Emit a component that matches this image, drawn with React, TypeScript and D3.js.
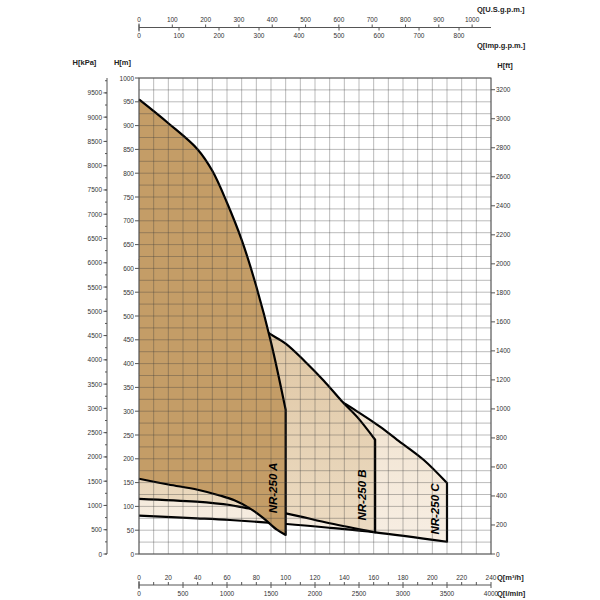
import React from 'react';
import * as d3 from 'd3';

// ---- data (Q in m3/h, H in m) ----
const qAUp = [0, 20, 40, 50, 60, 70, 80, 90, 100];
const hAUp = [955, 905, 850, 805, 738, 660, 562, 445, 303];
const qALow = [0, 20, 40, 55, 65, 75, 85, 94, 100];
const hALow = [158, 146, 135, 123, 113, 97, 75, 51, 40];

const qBUp = [0, 40, 70, 87, 100, 113, 126, 138, 149, 161];
const hBUp = [620, 570, 510, 467, 442, 405, 364, 322, 287, 240];
const qBLow = [0, 39, 62, 73.4, 100, 130, 161];
const hBLow = [116, 110, 103, 96.5, 85.5, 64.5, 45.6];

const qCUp = [0, 60, 100, 125, 137, 150, 164, 176, 194, 210];
const hCUp = [380, 360, 345, 330, 321, 297, 268, 240, 198, 149];
const qCLow = [0, 39.3, 62, 100.7, 130, 161, 210];
const hCLow = [80.5, 75, 71.4, 63, 55, 45.6, 25.8];

const pumpNames = ['NR-250 A', 'NR-250 B', 'NR-250 C'];
const labelQ = [91.4, 152, 201.8];
const labelH = [138.7, 124, 94.5];

const mTicks = d3.range(0, 1001, 50);
const kPaTicks = d3.range(0, 9501, 500);
const kPaMinor = d3.range(0, 9751, 250);
const ftTicks = d3.range(0, 3201, 200);
const m3hTicks = d3.range(0, 241, 20);
const lminTicks = d3.range(0, 4001, 500);
const usTicks = d3.range(0, 1001, 100);
const impTicks = d3.range(0, 801, 100);

const L = 139, R = 491, T = 78, B = 554;
const x = d3.scaleLinear().domain([0, 240]).range([L, R]);
const y = d3.scaleLinear().domain([0, 1000]).range([B, T]);
const yk = d3.scaleLinear().domain([0, 1000 * 9.80665]).range([B, T]);
const yf = d3.scaleLinear().domain([0, 1000 / 0.3048]).range([B, T]);
const xl = d3.scaleLinear().domain([0, 4000]).range([L, R]);
const xus = d3.scaleLinear().domain([0, 240 * 4.40287]).range([L, R]);
const ximp = d3.scaleLinear().domain([0, 240 * 3.66615]).range([L, R]);

const zip = (a: number[], b: number[]) => a.map((v, i) => [v, b[i]] as [number, number]);
const lineGen = d3.line<[number, number]>().x(d => x(d[0])).y(d => y(d[1])).curve(d3.curveCatmullRom.alpha(0.5));

function shape(qu: number[], hu: number[], ql: number[], hl: number[]) {
  const up = zip(qu, hu);
  const low = zip(ql, hl).reverse();
  const upD = lineGen(up) as string;
  const lowD = (lineGen(low) as string).replace(/^M/, 'L');
  return { fill: upD + lowD + 'Z', stroke: upD + lowD };
}

const sA = shape(qAUp, hAUp, qALow, hALow);
const sB = shape(qBUp, hBUp, qBLow, hBLow);
const sC = shape(qCUp, hCUp, qCLow, hCLow);

const tickFont = { fontFamily: 'Liberation Sans, Arial, sans-serif', fontSize: 6.5, fill: '#333' } as const;
const titleFont = { fontFamily: 'Liberation Sans, Arial, sans-serif', fontSize: 7.5, fontWeight: 700, fill: '#222' } as const;

export default function App() {
  const gridV = d3.range(0, 241, 10);
  const gridH = d3.range(0, 1001, 25);
  const axC = '#555';
  const topY = 27.5;
  const botY = 585;
  return (
    <svg width={600} height={600} style={{ position: 'absolute', left: 0, top: 0, background: '#fff' }}>
      <defs>
        <linearGradient id="gB" x1="0" y1="0" x2="0" y2="1">
          <stop offset="0" stopColor="#dbc09a" />
          <stop offset="1" stopColor="#ecdbc2" />
        </linearGradient>
        <linearGradient id="gC" x1="0" y1="0" x2="0" y2="1">
          <stop offset="0" stopColor="#f0e1cc" />
          <stop offset="1" stopColor="#f7eee3" />
        </linearGradient>
      </defs>
      <rect x={L} y={T} width={R - L} height={B - T} fill="#fff" />
      <path d={sC.fill} fill="url(#gC)" />
      <path d={sC.stroke} fill="none" stroke="#000" strokeWidth={2.2} strokeLinejoin="round" />
      <path d={sB.fill} fill="url(#gB)" />
      <path d={sB.stroke} fill="none" stroke="#000" strokeWidth={2.2} strokeLinejoin="round" />
      <path d={sA.fill} fill="#c49d67" />
      <path d={sA.stroke} fill="none" stroke="#000" strokeWidth={2.2} strokeLinejoin="round" />
      {gridV.map(v => (
        <line key={'gv' + v} x1={x(v)} x2={x(v)} y1={T} y2={B} stroke="rgba(60,60,60,0.35)" strokeWidth={1} />
      ))}
      {gridH.map(v => (
        <line key={'gh' + v} x1={L} x2={R} y1={y(v)} y2={y(v)} stroke="rgba(60,60,60,0.35)" strokeWidth={1} />
      ))}
      <rect x={L} y={T} width={R - L} height={B - T} fill="none" stroke={axC} strokeWidth={1} />
      {pumpNames.map((n, i) => (
        <text key={n} transform={`translate(${x(labelQ[i])},${y(labelH[i])}) rotate(-90)`} textAnchor="middle" dominantBaseline="central"
          style={{ fontFamily: 'Liberation Sans, Arial, sans-serif', fontSize: 11.5, fontWeight: 700, fontStyle: 'italic' }} fill="#000">{n}</text>
      ))}
      {/* H[m] axis */}
      {mTicks.map(v => (
        <g key={'m' + v}>
          <line x1={L - 4} x2={L} y1={y(v)} y2={y(v)} stroke={axC} />
          <text x={L - 5} y={y(v)} textAnchor="end" dominantBaseline="central" style={tickFont}>{v}</text>
        </g>
      ))}
      {/* kPa axis */}
      <line x1={107} x2={107} y1={T} y2={B} stroke={axC} />
      {kPaMinor.map(v => (
        <line key={'km' + v} x1={105} x2={107} y1={yk(v)} y2={yk(v)} stroke={axC} />
      ))}
      {kPaTicks.map(v => (
        <g key={'k' + v}>
          <line x1={103.5} x2={107} y1={yk(v)} y2={yk(v)} stroke={axC} />
          <text x={102} y={yk(v)} textAnchor="end" dominantBaseline="central" style={tickFont}>{v}</text>
        </g>
      ))}
      {/* ft axis */}
      {ftTicks.map(v => (
        <g key={'f' + v}>
          <line x1={R} x2={R + 4} y1={yf(v)} y2={yf(v)} stroke={axC} />
          <text x={R + 5} y={yf(v)} dominantBaseline="central" style={tickFont}>{v}</text>
        </g>
      ))}
      <text x={84.5} y={65} textAnchor="middle" style={titleFont}>H[kPa]</text>
      <text x={122.5} y={65} textAnchor="middle" style={titleFont}>H[m]</text>
      <text x={505} y={68} textAnchor="middle" style={titleFont}>H[ft]</text>
      {/* bottom axes */}
      <line x1={L} x2={R} y1={botY} y2={botY} stroke={axC} />
      <line x1={L} x2={L} y1={botY - 4} y2={botY + 4} stroke={axC} />
      {d3.range(0, 241, 10).map(v => (
        <line key={'bt' + v} x1={x(v)} x2={x(v)} y1={botY - 3} y2={botY} stroke={axC} />
      ))}
      {m3hTicks.map(v => (
        <text key={'bm' + v} x={x(v)} y={577} textAnchor="middle" dominantBaseline="central" style={tickFont}>{v}</text>
      ))}
      {lminTicks.map(v => (
        <g key={'bl' + v}>
          <line x1={xl(v)} x2={xl(v)} y1={botY} y2={botY + 3} stroke={axC} />
          <text x={xl(v)} y={593} textAnchor="middle" dominantBaseline="central" style={tickFont}>{v}</text>
        </g>
      ))}
      <text x={497} y={580} style={titleFont}>Q[m³/h]</text>
      <text x={497} y={596} style={titleFont}>Q[l/min]</text>
      {/* top axes */}
      <line x1={L} x2={R} y1={topY} y2={topY} stroke={axC} />
      <line x1={L} x2={L} y1={topY - 4} y2={topY + 4} stroke={axC} />
      {usTicks.map(v => (
        <g key={'us' + v}>
          <line x1={xus(v)} x2={xus(v)} y1={topY - 3} y2={topY} stroke={axC} />
          <text x={xus(v)} y={19} textAnchor="middle" dominantBaseline="central" style={tickFont}>{v}</text>
        </g>
      ))}
      {impTicks.map(v => (
        <g key={'imp' + v}>
          <line x1={ximp(v)} x2={ximp(v)} y1={topY} y2={topY + 3} stroke={axC} />
          <text x={ximp(v)} y={35.5} textAnchor="middle" dominantBaseline="central" style={tickFont}>{v}</text>
        </g>
      ))}
      <text x={477} y={12} style={titleFont}>Q[U.S.g.p.m.]</text>
      <text x={477} y={47.5} style={titleFont}>Q[Imp.g.p.m.]</text>
    </svg>
  );
}
